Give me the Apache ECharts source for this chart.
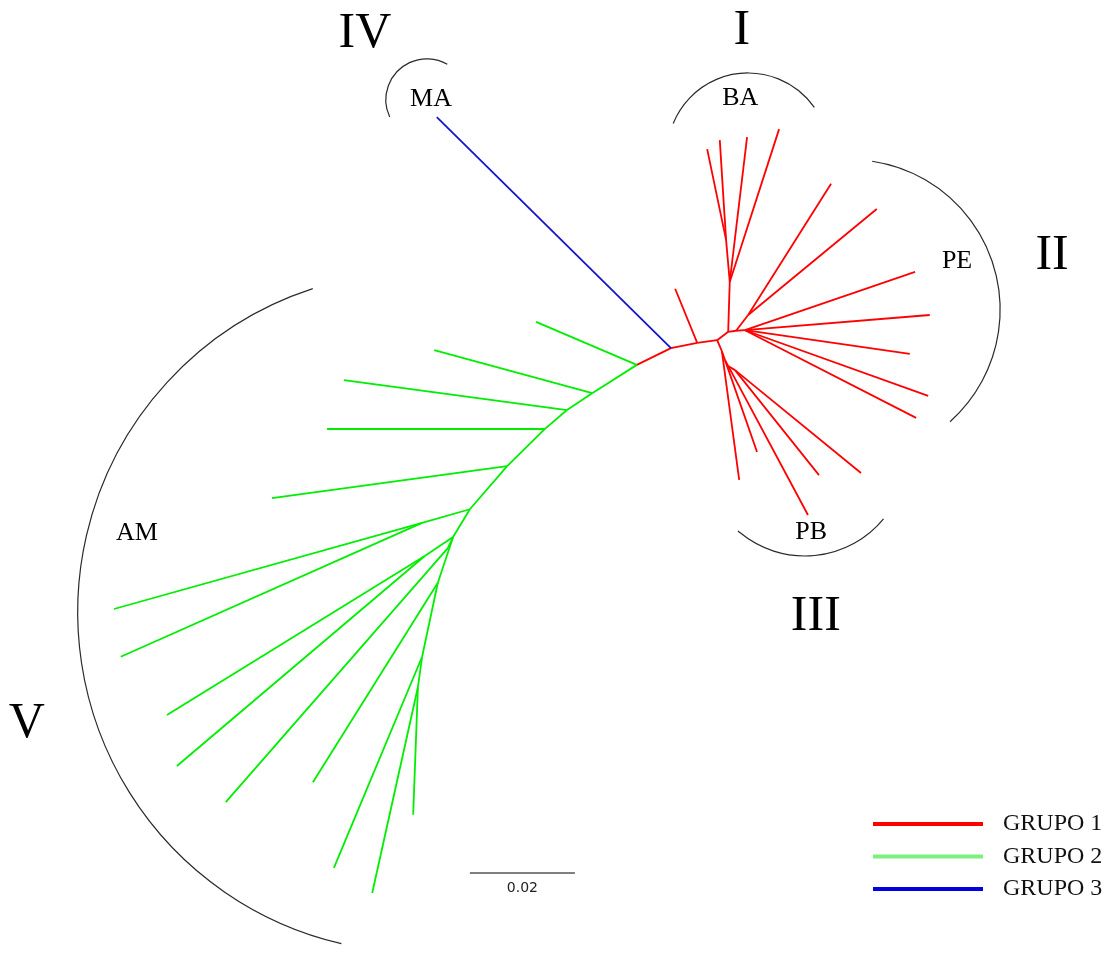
<!DOCTYPE html>
<html>
<head>
<meta charset="utf-8">
<script src="https://cdn.jsdelivr.net/npm/echarts@6/dist/echarts.min.js"></script>
<style>
  html, body { margin: 0; padding: 0; background: #ffffff; }
  #chart { width: 1109px; height: 955px; }
</style>
</head>
<body>
<div id="chart"></div>
<script>
// Unrooted tree. Node positions are in units of 0.001 substitutions per site
// (the scale bar, 0.02, spans 20 units). Each node: [id, parent, x, y];
// a branch is drawn from the parent to the node, in the colour of the node's group.

// GRUPO 1 (red): central backbone and clades BA, PE and PB
const grupo1Nodes = [
  ['r0',  null,  136.6, 64.8],
  ['r1',  'r0',  132.8, 65.3],
  ['r1a', 'r1',  128.6, 55.0],
  ['r2',  'r1',  127.8, 66.3],
  ['g0',  'r2',  121.3, 69.5],
  // BA
  ['ba0', 'r0',  138.7, 63.2],
  ['ba1', 'ba0', 139.0, 53.7],
  ['ba2', 'ba1', 138.3, 45.7],
  ['ba3', 'ba2', 134.7, 28.4],
  ['ba4', 'ba2', 137.1, 26.7],
  ['ba5', 'ba1', 142.3, 26.1],
  ['ba6', 'ba1', 148.4, 24.6],
  // PE
  ['pe0', 'ba0', 140.2, 63.0],
  ['pe1', 'pe0', 142.5, 60.0],
  ['pe2', 'pe1', 158.3, 35.0],
  ['pe3', 'pe1', 167.0, 39.8],
  ['pe4', 'pe0', 141.9, 62.9],
  ['pe5', 'pe4', 174.3, 51.8],
  ['pe6', 'pe4', 177.1, 60.0],
  ['pe7', 'pe4', 173.3, 67.4],
  ['pe8', 'pe4', 176.8, 75.4],
  ['pe9', 'pe4', 174.5, 79.6],
  // PB
  ['pb0', 'r0',  137.5, 66.9],
  ['pb1', 'pb0', 138.1, 68.6],
  ['pb2', 'pb1', 138.7, 69.7],
  ['pb3', 'pb2', 140.0, 70.5],
  ['pb4', 'pb0', 140.8, 91.4],
  ['pb5', 'pb1', 144.2, 86.1],
  ['pb6', 'pb2', 153.9, 98.1],
  ['pb7', 'pb3', 156.0, 90.5],
  ['pb8', 'pb3', 164.0, 90.1]
];

// GRUPO 2 (green): clade AM
const grupo2Nodes = [
  ['g1',  'g0',  112.8, 74.9],
  ['g2',  'g1',  108.0, 78.1],
  ['g3',  'g2',  103.8, 81.7],
  ['g4',  'g3',   96.6, 88.8],
  ['g5',  'g4',   89.5, 97.0],
  ['g6',  'g5',   86.3, 102.3],
  ['g7',  'g6',   83.4, 111.0],
  ['g8',  'g7',   80.4, 125.1],
  ['g9',  'g8',   79.6, 130.9],
  ['s1',  'g5',   80.4, 99.6],
  ['s2',  'g6',   80.9, 105.9],
  ['s3',  'g6',   85.3, 104.4],
  ['am1', 'g0',  102.1, 61.3],
  ['am2', 'g1',   82.7, 66.7],
  ['am3', 'g2',   65.5, 72.4],
  ['am4', 'g3',   62.3, 81.7],
  ['am5', 'g4',   51.8, 94.9],
  ['am6', 's1',   21.7, 116.0],
  ['am7', 's1',   23.0, 125.1],
  ['am8', 's2',   31.8, 136.2],
  ['am9', 's2',   33.7, 145.9],
  ['am10','s3',   43.0, 152.8],
  ['am11','g7',   59.6, 149.0],
  ['am12','g8',   63.6, 165.3],
  ['am13','g9',   70.9, 170.1],
  ['am14','g9',   78.7, 155.2]
];

// GRUPO 3 (blue): clade MA
const grupo3Nodes = [
  ['ma1', 'r2', 83.2, 22.3]
];

const groupNames = ['GRUPO 1', 'GRUPO 2', 'GRUPO 3'];

// Clade brackets: [cx, cy, radius, startDeg, endDeg] (clockwise on screen)
const cladeArcs = [
  [81.3, 19.0, 7.8, -205, -60],     // MA
  [142.5, 29.3, 15.4, -158, -35],   // BA
  [161.9, 59.0, 28.6, -81.5, 48.2], // PE
  [153.3, 86.5, 19.4, 39.4, 131],   // PB
  [79.6, 116.6, 64.8, 103, 252]     // AM
];

// Clade labels: [text, x, y]
const cladeLabels = [
  ['MA', 82.1, 18.9],
  ['BA', 141.0, 18.7],
  ['PE', 182.3, 49.7],
  ['PB', 154.5, 101.3],
  ['AM', 26.1, 101.5]
];

// Clade numbers: [text, x, y]
const cladeNumbers = [
  ['IV', 69.5, 6.5],
  ['I', 141.3, 5.9],
  ['II', 200.4, 48.8],
  ['III', 155.4, 117.5],
  ['V', 5.1, 137.9]
];

// Scale bar: start point, length (0.02 substitutions/site) and its label
const scaleBarStart = [89.5, 166.3];
const scaleBarLength = 20;
const scaleBarLabel = '0.02';

// ---------------------------------------------------------------------------

const allNodes = grupo1Nodes.concat(grupo2Nodes, grupo3Nodes);
const nodePos = {};
allNodes.forEach(n => { nodePos[n[0]] = [n[2], n[3]]; });

function branches(nodes) {
  return nodes
    .filter(n => n[1] !== null)
    .map(n => ({ coords: [nodePos[n[1]], [n[2], n[3]]] }));
}

const treeColors = ['#ff0000', '#00ee00', '#1414c8'];
const legendColors = ['#ff0000', '#7ef07e', '#0000e0'];
const groupNodes = [grupo1Nodes, grupo2Nodes, grupo3Nodes];

const serif = '"Liberation Serif", "Times New Roman", serif';

const chart = echarts.init(document.getElementById('chart'), null, { renderer: 'canvas' });

const branchSeries = groupNames.map((name, i) => ({
  name: name,
  type: 'lines',
  coordinateSystem: 'cartesian2d',
  silent: true,
  z: 3,
  lineStyle: { color: treeColors[i], width: 1.8, opacity: 1, curveness: 0 },
  itemStyle: { color: treeColors[i] },
  data: branches(groupNodes[i])
}));

// Text marks drawn at data positions
function textSeries(name, rows, fontSize) {
  return {
    name: name,
    type: 'custom',
    coordinateSystem: 'cartesian2d',
    silent: true,
    z: 4,
    data: rows.map(d => ({ name: d[0], value: [d[1], d[2]] })),
    renderItem: function (params, api) {
      const p = api.coord([api.value(0), api.value(1)]);
      return {
        type: 'text',
        x: p[0],
        y: p[1],
        style: {
          text: rows[params.dataIndex][0],
          align: 'center',
          verticalAlign: 'middle',
          fontFamily: serif,
          fontSize: fontSize,
          fill: '#000000'
        }
      };
    }
  };
}

const option = {
  animation: false,
  backgroundColor: '#ffffff',
  grid: { left: 0, right: 0, top: 0, bottom: 0 },
  xAxis: { type: 'value', min: 0, max: 1109 / 5.25, show: false },
  yAxis: { type: 'value', min: 0, max: 955 / 5.25, inverse: true, show: false },
  legend: {
    orient: 'vertical',
    left: 873,
    top: 812,
    padding: 0,
    itemWidth: 110,
    itemHeight: 4,
    itemGap: 8.5,
    icon: 'rect',
    selectedMode: false,
    itemStyle: { borderWidth: 0 },
    textStyle: { fontFamily: serif, fontSize: 24, color: '#111111', padding: [0, 0, 0, 15] },
    data: groupNames.map((n, i) => ({
      name: n,
      icon: 'rect',
      itemStyle: { color: legendColors[i], borderWidth: 0, borderColor: legendColors[i] },
      lineStyle: { width: 0 }
    }))
  },
  series: branchSeries.concat([
    {
      name: 'clados',
      type: 'custom',
      coordinateSystem: 'cartesian2d',
      silent: true,
      z: 2,
      data: cladeArcs,
      renderItem: function (params, api) {
        const c = api.coord([api.value(0), api.value(1)]);
        const r = api.size([api.value(2), 0])[0];
        return {
          type: 'arc',
          shape: {
            cx: c[0], cy: c[1], r: r,
            startAngle: api.value(3) * Math.PI / 180,
            endAngle: api.value(4) * Math.PI / 180,
            clockwise: true
          },
          style: { stroke: '#2a2a2a', fill: null, lineWidth: 1.2 }
        };
      }
    },
    textSeries('etiquetas', cladeLabels, 26),
    textSeries('numeros', cladeNumbers, 50),
    {
      name: 'escala',
      type: 'custom',
      coordinateSystem: 'cartesian2d',
      silent: true,
      data: [[scaleBarStart[0], scaleBarStart[1], scaleBarStart[0] + scaleBarLength]],
      renderItem: function (params, api) {
        const a = api.coord([api.value(0), api.value(1)]);
        const b = api.coord([api.value(2), api.value(1)]);
        return {
          type: 'group',
          children: [
            {
              type: 'line',
              shape: { x1: a[0], y1: a[1], x2: b[0], y2: b[1] },
              style: { stroke: '#555555', lineWidth: 1.5 }
            },
            {
              type: 'text',
              x: (a[0] + b[0]) / 2,
              y: a[1] + 8,
              style: {
                text: scaleBarLabel, align: 'center', verticalAlign: 'top',
                fontFamily: '"DejaVu Sans", sans-serif', fontSize: 14, fill: '#222222'
              }
            }
          ]
        };
      }
    }
  ])
};

chart.setOption(option);
</script>
</body>
</html>
